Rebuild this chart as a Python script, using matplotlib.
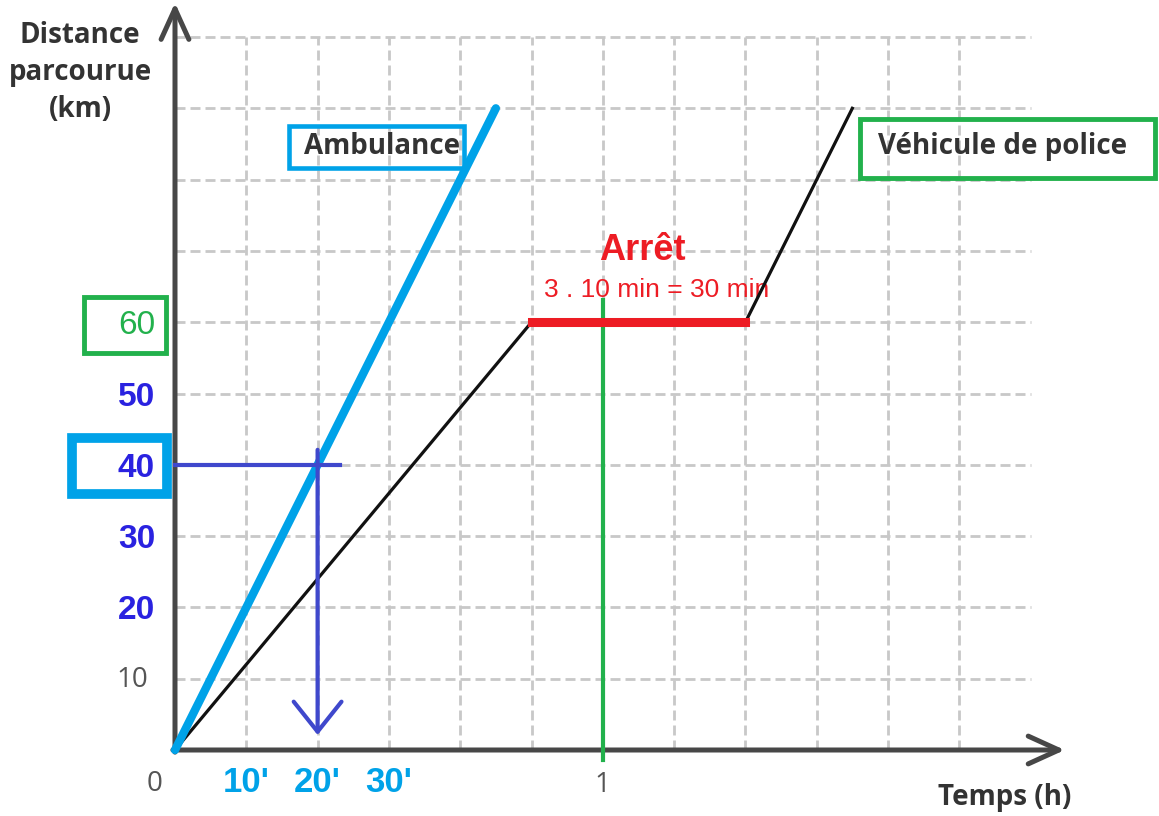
import matplotlib
matplotlib.use("Agg")
import matplotlib.pyplot as plt
from matplotlib.patches import Rectangle

# data (minutes, km)
grid_x = [10, 20, 30, 40, 50, 60, 70, 80, 90, 100, 110]
grid_y = [10, 20, 30, 40, 50, 60, 70, 80, 90, 100]
grid_xmax = 120
grid_ymax = 100

amb_t = [0, 45]
amb_d = [0, 90]

pol_t = [0, 50, 80, 95]
pol_d = [0, 60, 60, 90]

stop_t = [50, 80]
stop_d = 60

read_t = 20      # 20 min -> 40 km
read_d = 40
hour_t = 60

blue_ticks = [20, 30, 40, 50]
grey_ticks = [10]
green_tick = 60
xtick_pos = [10, 20, 30]
xtick_lab = ["10'", "20'", "30'"]

AX = "#474747"
GRID = "#c8c8c8"
CYAN = "#00a2e8"
GREEN = "#22b14c"
RED = "#ed1c24"
BLUE = "#3f48cc"
TICKBLUE = "#2a22e0"
TXT = "#333333"

S = 7.13  # px per unit
fig = plt.figure(figsize=(11.59, 8.16), dpi=100)
ax = fig.add_axes([0, 0, 1, 1])
ax.set_xlim(-175 / S, (1159 - 175) / S)
ax.set_ylim(-66 / S, 750 / S)
ax.axis("off")

title_font = ["Open Sans", "DejaVu Sans"]
num_font = ["Liberation Sans", "DejaVu Sans"]

# dashed grid
dash = (0, (3.6, 1.8))
ax.vlines(grid_x, 0, grid_ymax, colors=GRID, lw=2, linestyles=[dash], zorder=1)
ax.hlines(grid_y, 0, grid_xmax, colors=GRID, lw=2, linestyles=[dash], zorder=1)

# axes with arrow heads
arr = dict(arrowstyle="->,head_length=1.1,head_width=0.5", lw=3.6, color=AX,
           shrinkA=0, shrinkB=0, mutation_scale=20)
ax.annotate("", xy=(0, 104.8), xytext=(0, -0.3), arrowprops=arr, zorder=3)
ax.annotate("", xy=(124.8, 0), xytext=(-0.3, 0), arrowprops=arr, zorder=3)

# series
ax.plot(amb_t, amb_d, color=CYAN, lw=6, solid_capstyle="round", zorder=5)
ax.plot(pol_t, pol_d, color="#111111", lw=2.3, zorder=4)
ax.plot(stop_t, [stop_d, stop_d], color=RED, lw=6.5, solid_capstyle="projecting", zorder=6)
ax.plot([hour_t, hour_t], [-1.4, 63.1], color=GREEN, lw=3, zorder=4)

# reading 40 km -> 20 min
ax.plot([0, 23.1], [read_d, read_d], color=BLUE, lw=3, zorder=7)
ax.annotate("", xy=(read_t, 2.1), xytext=(read_t, 42.1),
            arrowprops=dict(arrowstyle="->,head_length=1.08,head_width=0.86", lw=3,
                            color=BLUE, shrinkA=0, shrinkB=0, mutation_scale=20),
            zorder=7)

# axis titles
ax.text(-13.3, 95.0, "Distance\nparcourue\n(km)", ha="center", va="center",
        fontsize=20, fontweight="bold", color=TXT, family=title_font, linespacing=1.36)
ax.text(116.4, -6.6, "Temps (h)", ha="center", va="center", fontsize=20,
        fontweight="bold", color=TXT, family=title_font)

# y tick labels
for v in blue_ticks:
    ax.text(-2.8, v - 0.5, str(v), ha="right", va="center", fontsize=24,
            fontweight="bold", color=TICKBLUE, family=num_font)
for v in grey_ticks:
    ax.text(-3.8, v - 0.2, str(v), ha="right", va="center", fontsize=20,
            color="#555555", family=title_font)
ax.text(-2.8, green_tick - 0.4, str(green_tick), ha="right", va="center", fontsize=24,
        color=GREEN, family=num_font)
ax.add_patch(Rectangle((-12.8, 55.7), 11.5, 7.8, fill=False, ec=GREEN, lw=3.5, zorder=3))
ax.add_patch(Rectangle((-14.4, 35.9), 13.3, 7.9, fill=False, ec=CYAN, lw=7, zorder=3))

# x tick labels
ax.text(-2.8, -4.8, "0", ha="center", va="center", fontsize=20, color="#555555",
        family=title_font)
ax.text(hour_t, -4.9, "1", ha="center", va="center", fontsize=20, color="#555555",
        family=title_font)
for p, lab in zip(xtick_pos, xtick_lab):
    ax.text(p, -4.6, lab, ha="center", va="center", fontsize=25, fontweight="bold",
            color=CYAN, family=num_font)

# series labels
ax.add_patch(Rectangle((16.0, 81.6), 24.5, 5.9, fill=False, ec=CYAN, lw=3.3, zorder=3))
ax.text(29.0, 84.6, "Ambulance", ha="center", va="center", fontsize=20,
        fontweight="bold", color=TXT, family=title_font, zorder=8)
ax.add_patch(Rectangle((96.1, 80.2), 41.3, 8.3, fill=False, ec=GREEN, lw=3.5, zorder=3))
ax.text(116.1, 84.6, "Véhicule de police", ha="center", va="center", fontsize=20,
        fontweight="bold", color=TXT, family=title_font, zorder=8)

# stop annotation
ax.text(65.5, 70.1, "Arrêt", ha="center", va="center", fontsize=26,
        fontweight="bold", color=RED, family=num_font)
ax.text(67.6, 64.5, "3 . 10 min = 30 min", ha="center", va="center", fontsize=19,
        color=RED, family=num_font)

fig.savefig("out.png", dpi=100)
